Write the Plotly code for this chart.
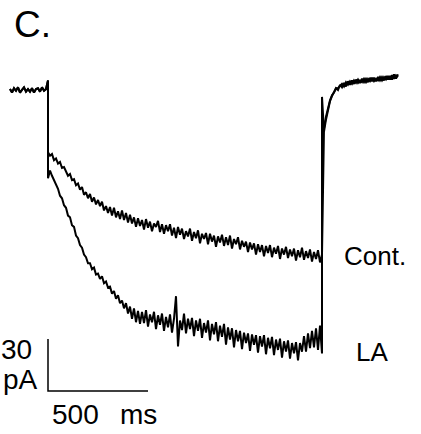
import plotly.graph_objects as go

# ---- recording parameters ----
DT_MS = 10
PULSE_ON_MS = 0       # start of the voltage step
PULSE_OFF_MS = 1370   # end of the voltage step

# holding current before the step (pA), sampled from -190 ms up to 0 ms
BASELINE = [0.5, -1.5, 1, -0.5, 1.5, -1.5, 0, 1.5, -1, 0.5,
            -1, 1, -1.5, 0.5, 1, -1, 1.5, -0.5, 0.5, 1.5]

# capacitive transient at step onset (pA)
ON_TRANSIENT_CONT = [5.5, -36]
ON_TRANSIENT_LA = [5.5, -51]

# current during the step (pA), control
CONT_PULSE = [
    -36, -38, -37, -40.5, -39.5, -42.5, -41.5, -45, -44.5, -47,
    -49.5, -48.5, -52, -51.5, -55, -54, -57.5, -56, -60.5, -59,
    -62.5, -60, -64.5, -62, -66, -63.5, -67, -64.5, -69.5, -67,
    -71, -67.5, -72.5, -68, -73.5, -70, -74.5, -69.5, -75, -71,
    -76.5, -72, -77, -73.5, -79, -74, -78.5, -75, -80.5, -74.5,
    -79.5, -76, -81.5, -77, -79, -75.5, -82, -77.5, -83, -78,
    -81.5, -77.5, -84, -79.5, -85.5, -79, -83.5, -80, -86, -81.5,
    -84.5, -80, -87, -82, -85.5, -81, -88.5, -83, -86, -82.5,
    -89, -83, -87.5, -84, -90.5, -84.5, -88, -83.5, -90, -85,
    -89.5, -84, -91.5, -86, -89, -85, -92, -87, -90.5, -87.5,
    -93.5, -88, -92, -88.5, -95, -89, -93.5, -89.5, -96, -90,
    -94, -89.5, -96.5, -91, -94.5, -90, -97.5, -91.5, -95, -90.5,
    -97, -92, -96, -91.5, -98.5, -92.5, -96.5, -91, -98, -93,
    -97, -92, -99, -93.5, -97.5, -92.5, -99.5, -95,
]

# current during the step (pA), with LA
LA_PULSE = [
    -44, -46.5, -49.5, -52, -55, -57, -61, -62.5, -66.5, -68,
    -72.5, -73.5, -78, -79, -84, -85.5, -89.5, -91, -95, -96.5,
    -100, -100, -103.5, -102.5, -106.5, -106, -109, -107.5, -111.5, -110.5,
    -114, -113.5, -117.5, -116, -120.5, -118.5, -123, -121.5, -126, -123,
    -129, -125, -132, -126, -134, -127.5, -135, -128, -134.5, -127,
    -136.5, -129.5, -134, -128, -138, -130, -135.5, -129, -139, -131,
    -137, -129.5, -140, -132, -119, -148, -133, -138.5, -129, -140.5,
    -132, -138, -131.5, -142, -133, -139, -132, -143, -134.5, -140,
    -133, -144.5, -135, -141, -134, -145, -136, -142.5, -135, -147,
    -137, -144, -137.5, -148.5, -138.5, -145, -139, -149.5, -140, -146,
    -140.5, -150.5, -141, -147, -141.5, -151.5, -142, -148, -141.5, -152.5,
    -143, -149, -142.5, -153, -144, -150, -143.5, -154.5, -145, -151,
    -144.5, -155, -146, -152, -145.5, -156, -146, -151, -142, -151,
    -140.5, -149, -139, -148.5, -137.5, -150, -136, -152,
]

# tail current after the step, from 1380 ms onward (pA)
CONT_TAIL = [
    -22, -15.5, -10, -6, -3, -1.5, 1, 0, 3, 1.5,
    4, 2, 5, 3, 5.5, 3.5, 6, 4, 5.5, 4.5,
    6.5, 4.5, 6.5, 5, 7, 5, 6.5, 5.5, 7.5, 5.5,
    7.5, 6, 8, 6, 8.5, 6.5, 8.5, 7.5,
]
LA_TAIL = [
    -24, -17, -11.5, -6.5, -3.5, -1, 1, 1, 2.5, 3.5,
    2, 4.5, 3, 5, 3.5, 5.5, 4, 6, 4, 6.5,
    4.5, 6.5, 4.5, 7, 5, 7, 5, 7.5, 5.5, 7.5,
    5.5, 8, 6, 8, 6, 9, 6.5, 9,
]
LA_OFF_SPIKE = -4     # brief overshoot at step offset (pA)

# calibration bar
SCALE_MS = 500
SCALE_PA = 30
SCALE_ORIGIN = (0, -173.7)


def build_trace(on_transient, pulse, tail, off_spike=None):
    n_base = len(BASELINE) - 1
    t = [PULSE_ON_MS - DT_MS * (n_base - i) for i in range(n_base)]
    y = list(BASELINE[:-1])
    t += [PULSE_ON_MS] * len(on_transient)
    y += list(on_transient)
    t += [PULSE_ON_MS + DT_MS * i for i in range(1, len(pulse))]
    y += list(pulse[1:])
    if off_spike is not None:
        t.append(PULSE_OFF_MS)
        y.append(off_spike)
    t += [PULSE_OFF_MS + DT_MS * (i + 1) for i in range(len(tail))]
    y += list(tail)
    return t, y


fig = go.Figure()
for on_tr, pulse, tail, spike in [
    (ON_TRANSIENT_CONT, CONT_PULSE, CONT_TAIL, None),
    (ON_TRANSIENT_LA, LA_PULSE, LA_TAIL, LA_OFF_SPIKE),
]:
    t, y = build_trace(on_tr, pulse, tail, spike)
    fig.add_trace(go.Scatter(x=t, y=y, mode="lines",
                             line=dict(color="black", width=2),
                             hoverinfo="skip", showlegend=False))

# calibration bar: 30 pA vertical, 500 ms horizontal
x0, y0 = SCALE_ORIGIN
fig.add_trace(go.Scatter(x=[x0, x0, x0 + SCALE_MS], y=[y0 + SCALE_PA, y0, y0],
                         mode="lines", line=dict(color="black", width=1.5),
                         hoverinfo="skip", showlegend=False))

FONT = "Liberation Sans, Arial, sans-serif"


def label(text, x, y, size, xanchor="left", yanchor="middle"):
    fig.add_annotation(x=x, y=y, text=text, showarrow=False,
                       xanchor=xanchor, yanchor=yanchor,
                       font=dict(family=FONT, size=size, color="black"))


label("C.", -180, 38, 37)
label("30", -68, -150, 28, xanchor="right")
label("pA", -38, -167, 28, xanchor="right")
label("500", 8, -187.5, 28)
label("ms", 350, -187.5, 28)
label("Cont.", 1470, -96, 26)
label("LA", 1530, -151, 26)

fig.update_layout(
    width=421, height=434,
    margin=dict(l=0, r=0, t=0, b=0),
    paper_bgcolor="white", plot_bgcolor="white",
    xaxis=dict(range=[-240, 1865], visible=False, fixedrange=True),
    yaxis=dict(range=[-198.5, 51.9], visible=False, fixedrange=True),
)

fig.write_html("out.html")
